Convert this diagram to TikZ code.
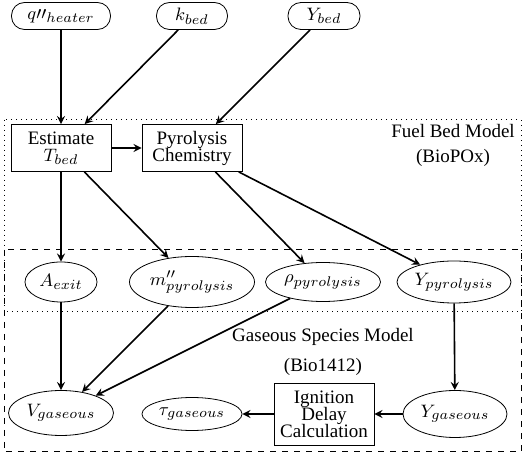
\documentclass[tikz,border=0pt]{standalone}
\usepackage{fontspec}
\setmainfont{Liberation Serif}
\usetikzlibrary{arrows,shapes,positioning,shapes.geometric}

\begin{document}
\begin{tikzpicture}[x=0.5pt,y=-0.5pt,>=stealth,
	every node/.style={font=\fontsize{9.5}{10.5}\selectfont},
	param/.style={draw,line width=0.4pt,rounded corners=6.5pt,minimum height=13.5pt,inner sep=1pt},
	proc/.style={draw,line width=0.4pt,rectangle,align=center,minimum width=50pt,inner sep=1pt},
	var/.style={draw,line width=0.4pt,ellipse,inner sep=0pt},
	link/.style={->,line width=0.8pt}]
	\useasboundingbox (0,0) rectangle (526,454);
	% model boxes
	\draw[dotted,line width=0.5pt] (4,120) rectangle (521,312);
	\draw[dashed,line width=0.5pt] (4,250) rectangle (521,452);
	\node (fuel) at (453,131) {Fuel Bed Model};
	\node (biopox) at (453,158) {(BioPOx)};
	\node (gas) at (323,337) {Gaseous Species Model};
	\node (bio) at (323,367) {(Bio1412)};
	%
	\node[param,minimum width=49.5pt] (qheat) at (61,16) {$q\prime\prime_{heater}$};
	\node[param,minimum width=35.5pt] (kbed) at (192,16) {$k_{bed}$};
	\node[param,minimum width=36pt] (ybed) at (324,16) {$Y_{bed}$};
	%
	\node[proc,minimum height=23.5pt] (est) at (61,148) {Estimate\\[-2pt]$T_{bed}$};
	\node[proc,minimum height=23.5pt] (pyro) at (192,148) {Pyrolysis\\[-2pt]Chemistry};
	%
	\node[var,minimum width=36pt,minimum height=20pt] (aexit) at (61,282) {$A_{exit}$};
	\node[var,minimum width=62.5pt,minimum height=25.5pt] (mpyro) at (192,282) {$m''_{pyrolysis}$};
	\node[var,minimum width=57.5pt,minimum height=19.5pt] (rpyro) at (323,282) {$\rho_{pyrolysis}$};
	\node[var,minimum width=57pt,minimum height=21pt] (ypyro) at (454,282) {$Y_{pyrolysis}$};
	%
	\node[var,minimum width=52.5pt,minimum height=22.5pt] (vgas) at (61,413) {$V_{gaseous}$};
	\node[var,minimum width=50pt,minimum height=16.5pt] (tgas) at (192,414) {$\tau_{gaseous}$};
	\node[proc,minimum height=31pt] (ign) at (324,414) {Ignition\\[-2pt]Delay\\[-2pt]Calculation};
	\node[var,minimum width=52pt,minimum height=23.5pt] (ygas) at (455,414) {$Y_{gaseous}$};
	%
	\draw[link] (qheat) -- (est);
	\draw[link] (kbed) -- (est);
	\draw[link] (ybed) -- (pyro);
	\draw[link] (est) -- (pyro);
	% fuel bed outputs
	\draw[link] (est) -- (aexit);
	\draw[link] (est) -- (mpyro);
	\draw[link] (pyro) -- (rpyro);
	\draw[link] (pyro) -- (ypyro);
	% gaseous species
	\draw[link] (aexit) -- (vgas);
	\draw[link] (mpyro) -- (vgas);
	\draw[link] (rpyro) -- (vgas);
	\draw[link] (ypyro) -- (ygas);
	\draw[link] (ygas) -- (ign);
	\draw[link] (ign) -- (tgas);
\end{tikzpicture}
\end{document}
